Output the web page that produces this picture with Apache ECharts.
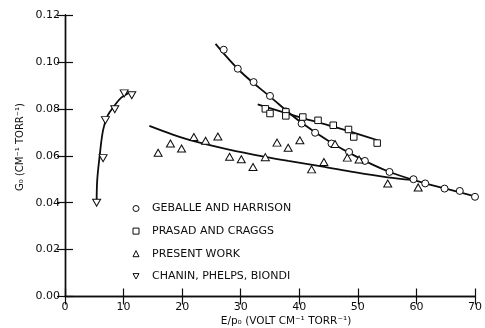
<!DOCTYPE html>
<html>
<head>
<meta charset="utf-8">
<script src="https://cdn.jsdelivr.net/npm/echarts@6/dist/echarts.min.js"></script>
<style>html,body{margin:0;padding:0;background:#fff;}#c{width:485px;height:328px;}</style>
</head>
<body>
<div id="c"></div>
<script>
// ---- data ----
const xTicks = [0, 10, 20, 30, 40, 50, 60, 70];
const yTicks = [0.00, 0.02, 0.04, 0.06, 0.08, 0.10, 0.12];

const seriesNames = ['GEBALLE AND HARRISON', 'PRASAD AND CRAGGS', 'PRESENT WORK', 'CHANIN, PHELPS, BIONDI'];

const geballePts = [[27.1,0.1052],[29.5,0.0971],[32.2,0.0914],[35.0,0.0855],[37.7,0.0789],[40.4,0.0737],[42.7,0.0698],[45.5,0.0652],[48.5,0.0616],[51.2,0.0578],[55.4,0.0531],[59.5,0.0500],[61.5,0.0482],[64.8,0.0460],[67.4,0.0450],[70.0,0.0425]];
const prasadPts = [[34.2,0.0800],[35.0,0.0780],[37.7,0.0787],[37.7,0.0770],[40.6,0.0765],[43.2,0.0751],[45.8,0.0730],[48.4,0.0712],[49.3,0.0680],[53.3,0.0654]];
const presentPts = [[15.9,0.0613],[18.0,0.0652],[19.9,0.0631],[22.0,0.0680],[24.0,0.0664],[26.1,0.0682],[28.1,0.0596],[30.1,0.0585],[32.1,0.0552],[34.2,0.0594],[36.2,0.0656],[38.1,0.0634],[40.1,0.0666],[42.1,0.0542],[44.2,0.0573],[46.1,0.0650],[48.2,0.0592],[50.2,0.0584],[55.1,0.0482],[60.3,0.0465]];
const chaninPts = [[5.4,0.0400],[6.5,0.0590],[6.9,0.0752],[8.5,0.0798],[10.1,0.0866],[11.4,0.0858]];

const geballeCurve = [[25.7,0.1077],[30,0.0958],[35,0.0852],[40,0.0748],[45,0.0663],[50,0.0593],[55,0.0535],[60,0.0493],[65,0.0460],[70,0.0427]];
const prasadCurve = [[32.9,0.0819],[40,0.0765],[47,0.0716],[53.4,0.0666]];
const presentCurve = [[14.4,0.0727],[18.4,0.0690],[22.0,0.0662],[28.0,0.0626],[34.2,0.0595],[38.1,0.0578],[43.8,0.0555],[49.4,0.0530],[55.1,0.0508],[59.3,0.0497]];
const chaninCurve = [[5.4,0.0405],[5.5,0.0496],[5.9,0.0595],[6.5,0.0709],[7.3,0.0772],[8.5,0.0815],[9.6,0.0848],[11.0,0.0869]];

const yTitle = 'G\u2080 (CM\u207B\u00B9 TORR\u207B\u00B9)';
const xTitle = 'E/p\u2080 (VOLT CM\u207B\u00B9 TORR\u207B\u00B9)';

// ---- chart ----
const INK = '#0d0d0d';
const FONT = 'DejaVu Sans';
const downTri = 'path://M0,0 L10,0 L5,9 Z';
const markStyle = {color: '#fff', borderColor: INK, borderWidth: 1, opacity: 1};

function curve(data) {
  return {type: 'line', data: data, smooth: 0.35, symbol: 'none', silent: true,
    lineStyle: {color: INK, width: 1.8}, z: 2};
}
function marks(name, data, symbol, size, rot) {
  return {type: 'scatter', name: name, data: data, symbol: symbol, symbolSize: size,
    symbolRotate: rot || 0, itemStyle: markStyle, z: 5};
}

const chart = echarts.init(document.getElementById('c'), null, {renderer: 'canvas'});
const axisCommon = {
  axisLine: {show: true, lineStyle: {color: INK, width: 1.4}},
  axisTick: {show: true, inside: true, length: 8, lineStyle: {color: INK, width: 1.2}},
  splitLine: {show: false}
};
chart.setOption({
  animation: false,
  backgroundColor: '#fff',
  grid: {left: 65, right: 7, top: 15, bottom: 31.5},
  xAxis: [
    Object.assign({type: 'value', position: 'bottom', min: xTicks[0], max: xTicks[xTicks.length-1], interval: 10,
      axisLabel: {color: INK, fontFamily: FONT, fontSize: 11, margin: 5}}, axisCommon),
    Object.assign({type: 'value', position: 'top', min: xTicks[0], max: xTicks[xTicks.length-1], interval: 10,
      axisLabel: {show: false}}, axisCommon)
  ],
  yAxis: [
    Object.assign({type: 'value', position: 'left', min: yTicks[0], max: yTicks[yTicks.length-1], interval: 0.02,
      axisLabel: {color: INK, fontFamily: FONT, fontSize: 11, margin: 5, formatter: v => v.toFixed(2)}}, axisCommon),
    Object.assign({type: 'value', position: 'right', min: yTicks[0], max: yTicks[yTicks.length-1], interval: 0.02,
      axisLabel: {show: false}}, axisCommon)
  ],
  legend: {
    orient: 'vertical', left: 127.5, top: 196.5, itemWidth: 6, itemHeight: 6, itemGap: 8.6,
    textStyle: {color: INK, fontFamily: FONT, fontSize: 11, lineHeight: 14, padding: [0, 0, 0, 8]},
    data: [
      {name: seriesNames[0], icon: 'circle', itemStyle: markStyle},
      {name: seriesNames[1], icon: 'rect', itemStyle: markStyle},
      {name: seriesNames[2], icon: 'triangle', itemStyle: markStyle},
      {name: seriesNames[3], icon: downTri, itemStyle: markStyle}
    ]
  },
  graphic: [
    {type: 'text', x: 20, y: 147, rotation: Math.PI / 2,
      style: {text: yTitle, fill: INK, font: '10px "DejaVu Sans"', textAlign: 'center', textVerticalAlign: 'middle'}},
    {type: 'text', x: 286, y: 321,
      style: {text: xTitle, fill: INK, font: '10.5px "DejaVu Sans"', textAlign: 'center', textVerticalAlign: 'middle'}}
  ],
  series: [
    curve(geballeCurve), curve(prasadCurve), curve(presentCurve), curve(chaninCurve),
    marks(seriesNames[0], geballePts, 'circle', 7),
    marks(seriesNames[1], prasadPts, 'rect', 6.5),
    marks(seriesNames[2], presentPts, 'triangle', [8, 7]),
    marks(seriesNames[3], chaninPts, downTri, [8, 7])
  ]
});
</script>
</body>
</html>
